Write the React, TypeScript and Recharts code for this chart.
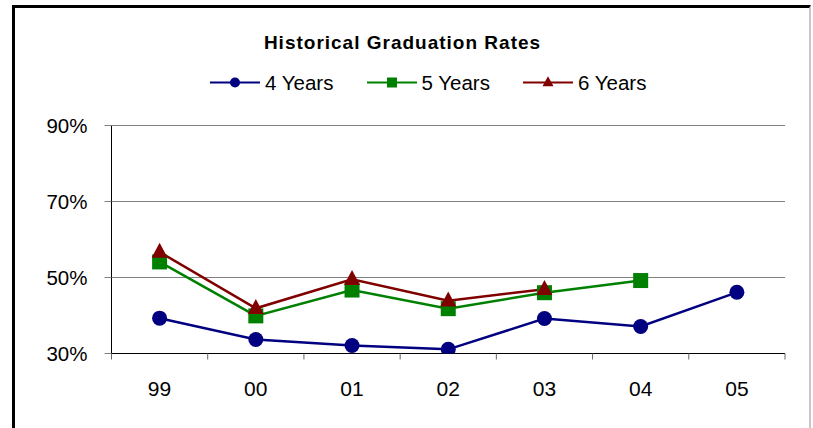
import { LineChart, Line, XAxis, YAxis, CartesianGrid } from "recharts"

const categories = ["99", "00", "01", "02", "03", "04", "05"]
const fourYears = [39.3, 33.7, 32.1, 31.1, 39.2, 37.1, 46.1]
const fiveYears: (number | null)[] = [54.1, 39.9, 46.7, 41.8, 46.0, 49.2, null]
const sixYears: (number | null)[] = [56.7, 41.9, 49.5, 43.9, 46.9, null, null]
const yTicks = [30, 50, 70, 90]
const boundaryTicks = [-0.5, 0.5, 1.5, 2.5, 3.5, 4.5, 5.5, 6.5]

const NAVY = "#000080"
const GREEN = "#008000"
const MAROON = "#800000"
const FONT = "'Liberation Sans', Arial, sans-serif"

const chartData = categories.map((year, i) => ({
  year,
  pos: i,
  four: fourYears[i],
  five: fiveYears[i],
  six: sixYears[i]
}))

const legendItems = [
  { label: "4 Years", color: NAVY, shape: "circle" },
  { label: "5 Years", color: GREEN, shape: "square" },
  { label: "6 Years", color: MAROON, shape: "triangle" }
]

function Marker({ shape, color, cx, cy, size }: { shape: string; color: string; cx: number; cy: number; size: number }) {
  if (shape === "circle") return <circle cx={cx} cy={cy} r={size / 2} fill={color} />
  if (shape === "square")
    return <rect x={cx - size / 2} y={cy - size / 2} width={size} height={size} fill={color} />
  const h = size
  return (
    <polygon
      points={`${cx},${cy - h * 0.62} ${cx + size / 2 + 0.5},${cy + h * 0.38} ${cx - size / 2 - 0.5},${cy + h * 0.38}`}
      fill={color}
    />
  )
}

const makeDot = (shape: string, color: string) => (props: any) => {
  const { cx, cy, index, value } = props
  if (cx == null || cy == null || value == null) return <g key={`${shape}-${index}`} />
  return (
    <g key={`${shape}-${index}`}>
      <Marker shape={shape} color={color} cx={cx} cy={cy} size={15} />
    </g>
  )
}

const EmptyTick = () => <g />

export default function App() {
  return (
    <div
      style={{
        position: "absolute",
        left: 0,
        top: 0,
        width: 813,
        height: 428,
        overflow: "hidden",
        background: "#fff",
        fontFamily: FONT
      }}
    >
      <div
        style={{
          position: "absolute",
          left: 12,
          top: 5,
          width: 794,
          height: 440,
          borderTop: "3px solid #000",
          borderLeft: "3px solid #000",
          borderRight: "2px solid #c8c8c8"
        }}
      />
      <div
        style={{
          position: "absolute",
          left: 0,
          top: 33,
          width: 805,
          textAlign: "center",
          fontSize: 19,
          lineHeight: "19px",
          fontWeight: "bold",
          letterSpacing: 1,
          color: "#000"
        }}
      >
        Historical Graduation Rates
      </div>
      <div style={{ position: "absolute", left: 210, top: 73, display: "flex" }}>
        {legendItems.map((item) => (
          <div key={item.label} style={{ width: 156.5, display: "flex", alignItems: "center" }}>
            <svg width={50} height={19}>
              <line x1={0} y1={9.5} x2={50} y2={9.5} stroke={item.color} strokeWidth={2} />
              <Marker shape={item.shape} color={item.color} cx={25} cy={9.5} size={10} />
            </svg>
            <span style={{ marginLeft: 5, fontSize: 20.5, lineHeight: "19px", color: "#000" }}>{item.label}</span>
          </div>
        ))}
      </div>
      <div style={{ position: "absolute", left: 0, top: 0 }}>
        <LineChart
          width={813}
          height={428}
          data={chartData}
          margin={{ top: 125.5, right: 28, bottom: 72.5, left: 0 }}
          style={{ fontFamily: FONT }}
        >
          <CartesianGrid horizontal vertical={false} stroke="#808080" />
          <XAxis
            dataKey="pos"
            type="number"
            domain={[-0.5, 6.5]}
            ticks={boundaryTicks}
            interval={0}
            allowDataOverflow
            tick={EmptyTick}
            tickSize={6}
            height={1}
            axisLine={{ stroke: "#000", strokeWidth: 1 }}
            tickLine={{ stroke: "#666" }}
          />
          <XAxis
            xAxisId="cat"
            dataKey="year"
            padding={{ left: 48, right: 48 }}
            axisLine={false}
            tickLine={false}
            tickSize={0}
            tickMargin={27}
            height={1}
            interval={0}
            tick={{ fontSize: 21, fill: "#000" }}
          />
          <YAxis
            width={111.5}
            domain={[30, 90]}
            ticks={yTicks}
            allowDataOverflow
            tickFormatter={(v: number) => `${v}%`}
            tickSize={7}
            tickMargin={17}
            axisLine={{ stroke: "#000" }}
            tickLine={{ stroke: "#808080" }}
            tick={{ fontSize: 20.5, fill: "#000" }}
          />
          <Line
            dataKey="four"
            stroke={NAVY}
            strokeWidth={2.5}
            dot={makeDot("circle", NAVY)}
            activeDot={false}
            isAnimationActive={false}
          />
          <Line
            dataKey="five"
            stroke={GREEN}
            strokeWidth={2.5}
            dot={makeDot("square", GREEN)}
            activeDot={false}
            isAnimationActive={false}
          />
          <Line
            dataKey="six"
            stroke={MAROON}
            strokeWidth={2.5}
            dot={makeDot("triangle", MAROON)}
            activeDot={false}
            isAnimationActive={false}
          />
        </LineChart>
      </div>
    </div>
  )
}
